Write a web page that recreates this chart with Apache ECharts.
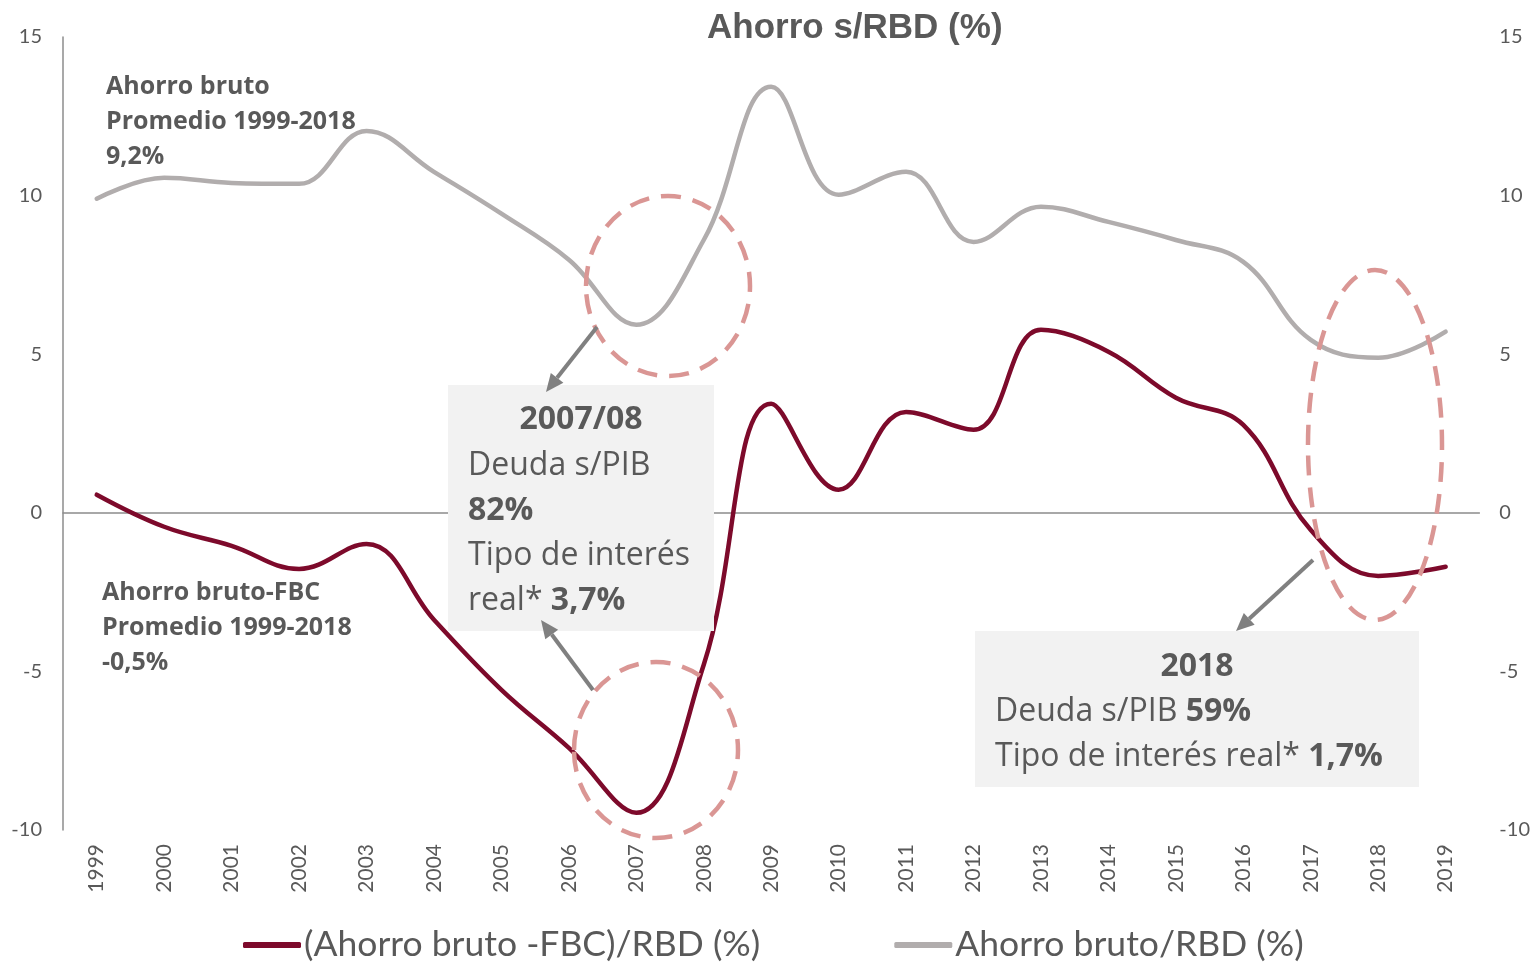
<!DOCTYPE html>
<html>
<head>
<meta charset="utf-8">
<script src="https://cdn.jsdelivr.net/npm/echarts@6/dist/echarts.min.js"></script>
<style>
  html, body { margin: 0; padding: 0; background: #fff; }
  #chart { width: 1533px; height: 963px; }
</style>
</head>
<body>
<div id="chart"></div>
<script>
// datos
var years = ['1999', '2000', '2001', '2002', '2003', '2004', '2005', '2006', '2007', '2008',
             '2009', '2010', '2011', '2012', '2013', '2014', '2015', '2016', '2017', '2018', '2019'];
var ahorroMenosFbc = [0.57, -0.44, -1.04, -1.77, -0.98, -3.37, -5.58, -7.41, -9.46, -4.79,
                      3.44, 0.73, 3.18, 2.62, 5.77, 5.08, 3.63, 2.77, -0.54, -1.99, -1.7];
var ahorroBruto = [9.9, 10.56, 10.4, 10.37, 12.04, 10.75, 9.43, 7.98, 5.93, 8.6,
                   13.43, 10.03, 10.75, 8.54, 9.65, 9.17, 8.6, 7.91, 5.45, 4.89, 5.71];
var yTicks = { min: -10, max: 15, interval: 5 };

var TXT = '#595959';
var ROJO = '#7d0a2b';
var GRIS = '#b1adad';
var ROSA = '#da9694';
var FLECHA = '#808080';

// flecha: linea + punta
function flecha(x1, y1, x2, y2) {
    var ang = Math.atan2(y2 - y1, x2 - x1);
    var len = 18, half = 8;
    var bx = x2 - len * Math.cos(ang), by = y2 - len * Math.sin(ang);
    var px = -Math.sin(ang) * half, py = Math.cos(ang) * half;
    return [
        { type: 'line', z: 100, shape: { x1: x1, y1: y1, x2: bx, y2: by },
          style: { stroke: FLECHA, lineWidth: 4 } },
        { type: 'polygon', z: 100, shape: { points: [[x2, y2], [bx + px, by + py], [bx - px, by - py]] },
          style: { fill: FLECHA } }
    ];
}

function elipse(cx, cy, rx, ry) {
    return { type: 'ellipse', z: 100, shape: { cx: cx, cy: cy, rx: rx, ry: ry },
             style: { fill: null, stroke: ROSA, lineWidth: 4.5, lineDash: [20, 12] } };
}

var chart = echarts.init(document.getElementById('chart'));

var graficos = [
    // cuadros grises
    { type: 'rect', z: 90, shape: { x: 448, y: 385, width: 266, height: 246 }, style: { fill: '#f2f2f2' } },
    { type: 'rect', z: 90, shape: { x: 975, y: 631, width: 444, height: 156 }, style: { fill: '#f2f2f2' } },
    // textos de los cuadros
    { type: 'text', z: 101, x: 581, y: 404,
      style: { text: '2007/08', font: 'bold 32px "Open Sans"', fill: TXT, align: 'center' } },
    { type: 'text', z: 101, x: 468, y: 443,
      style: { text: 'Deuda s/PIB\n{b|82%}\nTipo de interés\nreal* {b|3,7%}',
               font: '32px "Open Sans"', fill: TXT, lineHeight: 45,
               rich: { b: { font: 'bold 32px "Open Sans"', fill: TXT, lineHeight: 45 } } } },
    { type: 'text', z: 101, x: 1197, y: 651,
      style: { text: '2018', font: 'bold 32px "Open Sans"', fill: TXT, align: 'center' } },
    { type: 'text', z: 101, x: 995, y: 689,
      style: { text: 'Deuda s/PIB {b|59%}\nTipo de interés real* {b|1,7%}',
               font: '32px "Open Sans"', fill: TXT, lineHeight: 45,
               rich: { b: { font: 'bold 32px "Open Sans"', fill: TXT, lineHeight: 45 } } } },
    // textos de promedios
    { type: 'text', z: 101, x: 106, y: 69,
      style: { text: 'Ahorro bruto\nPromedio 1999-2018\n9,2%', font: 'bold 25px "Open Sans"',
               fill: TXT, lineHeight: 35 } },
    { type: 'text', z: 101, x: 102, y: 575,
      style: { text: 'Ahorro bruto-FBC\nPromedio 1999-2018\n-0,5%', font: 'bold 25px "Open Sans"',
               fill: TXT, lineHeight: 35 } },
    // elipses discontinuas
    elipse(668, 286, 82, 90),
    elipse(656, 750, 82, 88),
    elipse(1375, 445, 67, 175)
].concat(flecha(597, 327, 546, 392))
 .concat(flecha(593, 690, 541, 620))
 .concat(flecha(1313, 560, 1236, 631));

var option = {
    backgroundColor: '#fff',
    animation: false,
    title: {
        text: 'Ahorro s/RBD (%)',
        left: 702,
        top: 6,
        textStyle: { fontFamily: '"Liberation Sans", Arial', fontSize: 35, fontWeight: 'bold', color: TXT }
    },
    legend: {
        left: 238,
        top: 922,
        itemGap: 134,
        itemWidth: 58,
        itemHeight: 6,
        icon: 'roundRect',
        textStyle: { fontFamily: 'Lato', fontSize: 35.5, color: TXT, padding: [0, 0, 0, -2] },
        data: ['(Ahorro bruto -FBC)/RBD (%)', 'Ahorro bruto/RBD (%)']
    },
    grid: { left: 63, right: 53, top: 37, bottom: 133 },
    xAxis: [
        {
            type: 'category',
            data: years,
            axisLine: { show: false },
            axisTick: { show: false },
            axisLabel: { rotate: 90, margin: 14, fontFamily: 'Lato', fontSize: 21, color: TXT }
        },
        {
            type: 'category',
            data: years,
            axisLine: { show: true, onZero: true, lineStyle: { color: '#8c8c8c', width: 1.5 } },
            axisTick: { show: false },
            axisLabel: { show: false }
        }
    ],
    yAxis: [
        {
            type: 'value',
            min: yTicks.min, max: yTicks.max, interval: yTicks.interval,
            axisLine: { show: true, lineStyle: { color: '#8c8c8c', width: 1.5 } },
            axisTick: { show: false },
            splitLine: { show: false },
            axisLabel: { margin: 21, fontFamily: 'Lato', fontSize: 20, color: TXT }
        },
        {
            type: 'value',
            position: 'right',
            min: yTicks.min, max: yTicks.max, interval: yTicks.interval,
            axisLine: { show: false },
            axisTick: { show: false },
            splitLine: { show: false },
            axisLabel: { margin: 20, align: 'left', fontFamily: 'Lato', fontSize: 20, color: TXT }
        }
    ],
    series: [
        {
            name: '(Ahorro bruto -FBC)/RBD (%)',
            type: 'line',
            smooth: 0.4,
            showSymbol: false,
            data: ahorroMenosFbc,
            lineStyle: { color: ROJO, width: 4.5, cap: 'round' },
            itemStyle: { color: ROJO }
        },
        {
            name: 'Ahorro bruto/RBD (%)',
            type: 'line',
            smooth: 0.4,
            showSymbol: false,
            data: ahorroBruto,
            lineStyle: { color: GRIS, width: 4.5, cap: 'round' },
            itemStyle: { color: GRIS }
        }
    ],
    graphic: graficos
};

chart.setOption(option);
window.addEventListener('resize', function() { chart.resize(); });
</script>
</body>
</html>
